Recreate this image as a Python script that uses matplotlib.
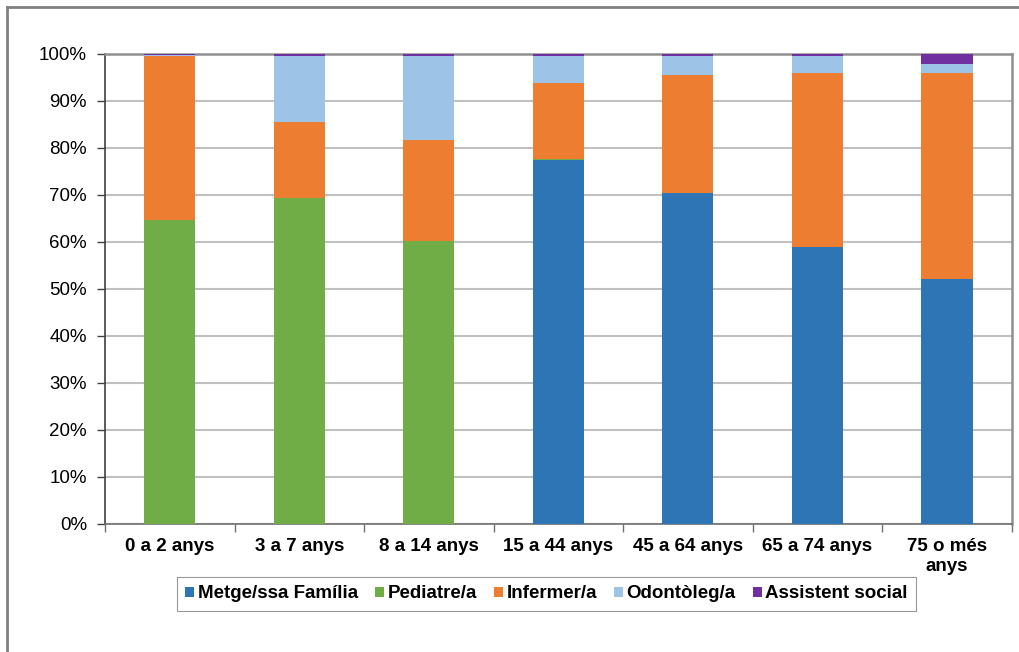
import numpy as np
import matplotlib
matplotlib.use('Agg')
import matplotlib.pyplot as plt
from matplotlib.lines import Line2D
from matplotlib.ticker import FuncFormatter

plt.rcParams['font.family'] = ['Liberation Sans', 'DejaVu Sans']

# dades (% de visites per professional i grup d'edat)
grups = ['0 a 2 anys', '3 a 7 anys', '8 a 14 anys', '15 a 44 anys',
         '45 a 64 anys', '65 a 74 anys', '75 o més\nanys']
metge = [0, 0, 0, 77.3, 70.4, 58.9, 52.1]
pediatre = [64.6, 69.4, 60.1, 0.2, 0, 0, 0]
infermer = [35.0, 16.1, 21.5, 16.3, 25.1, 36.9, 43.7]
odontoleg = [0.2, 14.1, 18.0, 5.8, 4.0, 3.7, 2.1]
assistent = [0.2, 0.4, 0.4, 0.4, 0.5, 0.5, 2.1]

series = [
    ('Metge/ssa Família', metge, '#2E75B6'),
    ('Pediatre/a', pediatre, '#70AD47'),
    ('Infermer/a', infermer, '#ED7D31'),
    ('Odontòleg/a', odontoleg, '#9DC3E6'),
    ('Assistent social', assistent, '#7030A0'),
]

fig = plt.figure(figsize=(10.2, 6.52), dpi=100)
ax = fig.add_axes([105/1020, 1 - 523.7/652, 906.7/1020, 470/652])

x = np.arange(len(grups))
base = np.zeros(len(grups))
for nom, vals, col in series:
    ax.bar(x, vals, width=0.395, bottom=base, color=col, label=nom, zorder=3)
    base += np.array(vals)

ax.set_xlim(-0.5, len(grups) - 0.5)
ax.set_ylim(0, 100)
ax.set_yticks(np.arange(0, 101, 10))
ax.yaxis.set_major_formatter(FuncFormatter(lambda v, p: '%d%%' % v))
ax.grid(axis='y', color='#c0c0c0', lw=1.5, zorder=0)

ax.set_xticks(x)
ax.set_xticklabels(grups, fontsize=13.5, fontweight='bold', linespacing=1.3)
ax.set_xticks(np.arange(-0.5, len(grups)), minor=True)
ax.tick_params(axis='x', which='major', length=0, pad=10)
ax.tick_params(axis='x', which='minor', length=6, width=1, color='#707070')
ax.tick_params(axis='y', length=6, width=1, color='#404040', labelsize=13.5, pad=7)

ax.spines['left'].set_color('#404040')
ax.spines['left'].set_linewidth(1.2)
ax.spines['bottom'].set_color('#707070')
ax.spines['bottom'].set_linewidth(1.2)
ax.spines['top'].set_color('#909090')
ax.spines['top'].set_linewidth(1.8)
ax.spines['right'].set_color('#909090')
ax.spines['right'].set_linewidth(1.8)

leg = fig.legend(loc='center', bbox_to_anchor=(546.5/1020, 1 - 594/652), ncol=5,
                 frameon=True, fancybox=False, edgecolor='#808080',
                 prop={'size': 13.5, 'weight': 'bold'},
                 handlelength=0.48, handleheight=0.48, handletextpad=0.2,
                 columnspacing=0.9, borderpad=0.45, borderaxespad=0)
leg.get_frame().set_linewidth(0.8)

# marc exterior del gràfic
fig.add_artist(Line2D([7.5/1020, 7.5/1020], [0, 1 - 6.5/652], transform=fig.transFigure,
                      color='#808080', lw=2))
fig.add_artist(Line2D([7.5/1020, 1], [1 - 6.5/652, 1 - 6.5/652], transform=fig.transFigure,
                      color='#808080', lw=2))

fig.savefig('out.png', dpi=100)
